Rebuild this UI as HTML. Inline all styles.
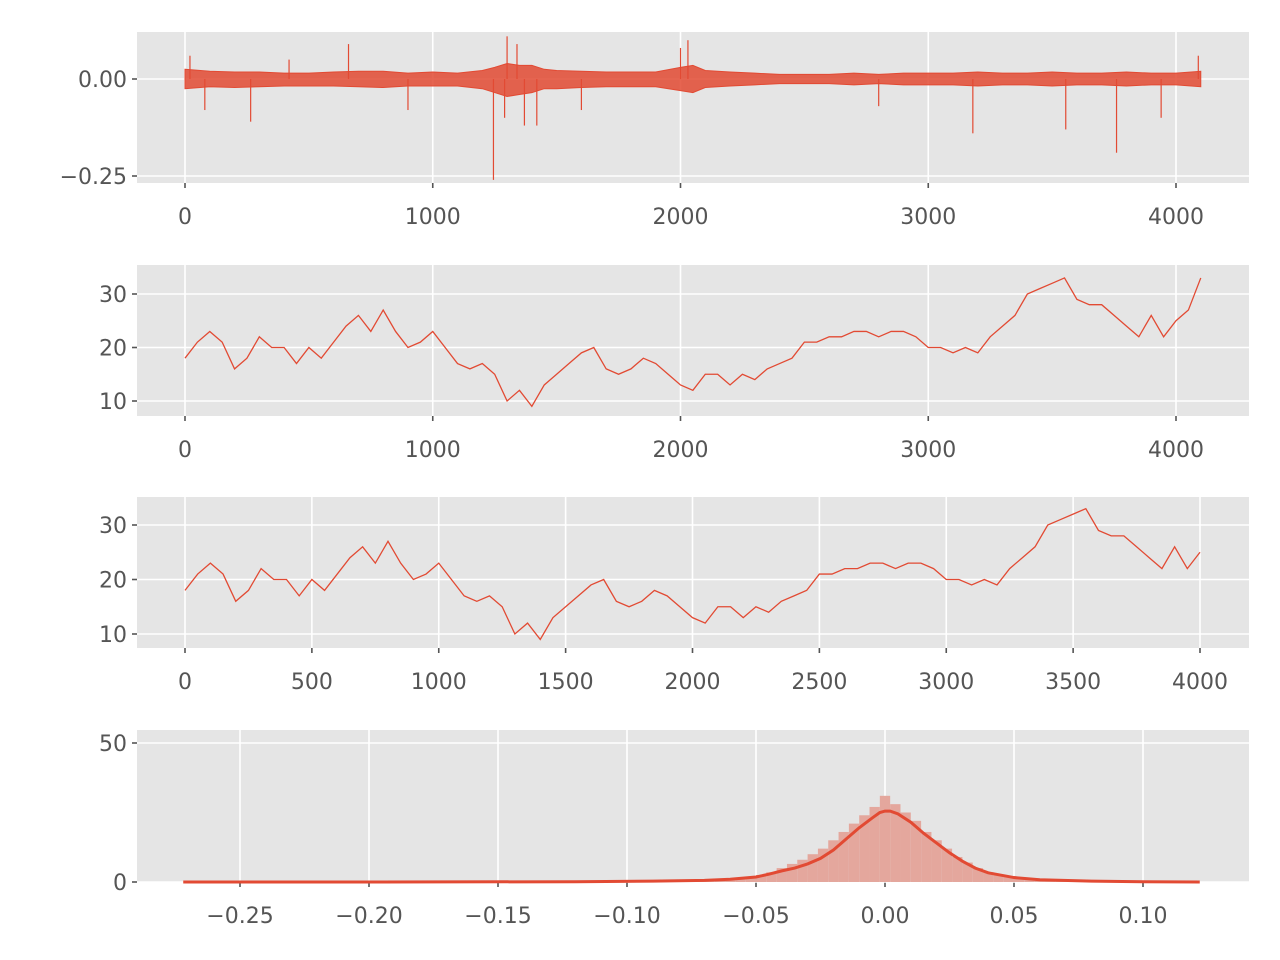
<!DOCTYPE html>
<html><head><meta charset="utf-8"><style>
html,body{margin:0;padding:0;background:#fff;width:1280px;height:960px;overflow:hidden}
svg text{font-family:"DejaVu Sans","Liberation Sans",sans-serif;font-size:22px;fill:#555}
</style></head><body>
<svg id="chart" width="1280" height="960" xmlns="http://www.w3.org/2000/svg"></svg>
<script>
// ---- data ----
const priceIdx = [0,50,100,150,200,250,300,350,400,450,500,550,600,650,700,750,800,850,900,950,1000,1050,1100,1150,1200,1250,1300,1350,1400,1450,1500,1550,1600,1650,1700,1750,1800,1850,1900,1950,2000,2050,2100,2150,2200,2250,2300,2350,2400,2450,2500,2550,2600,2650,2700,2750,2800,2850,2900,2950,3000,3050,3100,3150,3200,3250,3300,3350,3400,3450,3500,3550,3600,3650,3700,3750,3800,3850,3900,3950,4000,4050,4100];
const priceVals = [18,21,23,21,16,18,22,20,20,17,20,18,21,24,26,23,27,23,20,21,23,20,17,16,17,15,10,12,9,13,15,17,19,20,16,15,16,18,17,15,13,12,15,15,13,15,14,16,17,18,21,21,22,22,23,23,22,23,23,22,20,20,19,20,19,22,24,26,30,31,32,33,29,28,28,26,24,22,26,22,25,27,33];
const envIdx = [0,100,200,300,400,500,600,700,800,900,1000,1100,1200,1250,1300,1350,1400,1450,1500,1600,1700,1800,1900,2000,2050,2100,2200,2300,2400,2500,2600,2700,2800,2900,3000,3100,3200,3300,3400,3500,3600,3700,3800,3900,4000,4100];
const envHigh = [0.025,0.02,0.018,0.018,0.015,0.015,0.018,0.02,0.02,0.015,0.018,0.015,0.022,0.03,0.04,0.035,0.035,0.025,0.022,0.02,0.018,0.018,0.018,0.03,0.035,0.022,0.018,0.015,0.012,0.012,0.012,0.015,0.012,0.015,0.015,0.015,0.018,0.015,0.015,0.018,0.015,0.015,0.018,0.015,0.015,0.02];
const envLow = [-0.025,-0.02,-0.022,-0.02,-0.018,-0.018,-0.018,-0.02,-0.022,-0.018,-0.018,-0.018,-0.025,-0.035,-0.045,-0.04,-0.035,-0.025,-0.025,-0.022,-0.02,-0.02,-0.02,-0.03,-0.035,-0.022,-0.018,-0.015,-0.012,-0.012,-0.012,-0.015,-0.012,-0.015,-0.015,-0.015,-0.018,-0.015,-0.015,-0.018,-0.015,-0.015,-0.018,-0.015,-0.015,-0.02];
const spikeIdx = [20,80,265,420,660,900,1245,1290,1300,1340,1370,1420,1600,2000,2030,2800,3180,3555,3760,3940,4090];
const spikeVals = [0.06,-0.08,-0.11,0.05,0.09,-0.08,-0.26,-0.1,0.11,0.09,-0.12,-0.12,-0.08,0.08,0.1,-0.07,-0.14,-0.13,-0.19,-0.1,0.06];
const binCenters = [-0.080,-0.076,-0.072,-0.068,-0.064,-0.060,-0.056,-0.052,-0.048,-0.044,-0.040,-0.036,-0.032,-0.028,-0.024,-0.020,-0.016,-0.012,-0.008,-0.004,0,0.004,0.008,0.012,0.016,0.020,0.024,0.028,0.032,0.036,0.040,0.044,0.048,0.052,0.056,0.060,0.064,0.068,0.072,0.076,0.080];
const binCounts = [0.3,0.4,0.5,0.6,0.8,1,1.3,1.8,2.5,3.5,5,6.5,8,10,12,15,18,21,24,27,31,28,25,22,18,15,12,9,7,5,3.5,2.5,1.8,1.3,1,0.8,0.6,0.4,0.3,0.2,0.2];
const kdeX = [-0.272,-0.2,-0.12,-0.09,-0.07,-0.06,-0.05,-0.045,-0.04,-0.035,-0.03,-0.025,-0.02,-0.015,-0.01,-0.005,-0.002,0,0.002,0.005,0.01,0.015,0.02,0.025,0.03,0.035,0.04,0.05,0.06,0.08,0.1,0.122];
const kdeY = [0,0,0.1,0.3,0.6,1,1.8,2.8,4,5,6.5,8.5,11.5,15.5,19.5,23,25,25.5,25.5,24.5,21.5,17.5,14,10.5,7.5,5,3.3,1.6,0.8,0.3,0.1,0];
const xTicks1 = [0,1000,2000,3000,4000];
const yTicks1 = [0,-0.25], yLabels1 = ["0.00","\u22120.25"];
const yTicks2 = [10,20,30];
const xTicks3 = [0,500,1000,1500,2000,2500,3000,3500,4000];
const xTicks4 = [-0.25,-0.20,-0.15,-0.10,-0.05,0,0.05,0.10];
const xLabels4 = ["\u22120.25","\u22120.20","\u22120.15","\u22120.10","\u22120.05","0.00","0.05","0.10"];
const yTicks4 = [0,50];

const NS="http://www.w3.org/2000/svg", svg=document.getElementById('chart');
const RED="#E24A33";
function mk(tag,attrs,parent){const e=document.createElementNS(NS,tag);for(const k in attrs)e.setAttribute(k,attrs[k]);(parent||svg).appendChild(e);return e;}
function lin(d0,d1,r0,r1){return v=>r0+(v-d0)*(r1-r0)/(d1-d0);}
function panel(name,top,bot,xs,ys,xt,xl,yt,yl){
  const g=mk('g',{});
  
  
  const bg=mk('rect',{x:137,y:top,width:1112,height:bot-top,fill:'#E5E5E5'},g);
  
  
  xt.forEach((v,i)=>{const x=xs(v);
    mk('line',{x1:x,x2:x,y1:top,y2:bot,stroke:'#fff','stroke-width':1.6},g);
    mk('line',{x1:x,x2:x,y1:bot,y2:bot+5,stroke:'#555','stroke-width':1.6},g);
    const t=mk('text',{x:x,y:bot+41,'text-anchor':'middle'},g);t.textContent=xl?xl[i]:String(v);
    
    });
  yt.forEach((v,i)=>{const y=ys(v);
    mk('line',{x1:137,x2:1249,y1:y,y2:y,stroke:'#fff','stroke-width':1.6},g);
    mk('line',{x1:132,x2:137,y1:y,y2:y,stroke:'#555','stroke-width':1.6},g);
    const t=mk('text',{x:127,y:y+8,'text-anchor':'end'},g);t.textContent=yl?yl[i]:String(v);
    
    });
  return g;
}
{const xs=lin(0,4000,185,1176),ys=lin(0,-0.25,79,176);
 const g=panel('returns-panel',32,183,xs,ys,xTicks1,null,yTicks1,yLabels1);
 let d='M'+envIdx.map((v,i)=>xs(v)+','+ys(envHigh[i])).join('L');
 for(let i=envIdx.length-1;i>=0;i--)d+='L'+xs(envIdx[i])+','+ys(envLow[i]);
 const a=mk('path',{d:d+'Z',fill:RED,'fill-opacity':0.85,stroke:RED,'stroke-width':1},g);
 
 
 spikeIdx.forEach((v,i)=>{const s=mk('line',{x1:xs(v),x2:xs(v),y1:ys(0),y2:ys(spikeVals[i]),stroke:RED,'stroke-width':1.2},g);
  
  });
}
function priceLine(g,xs,ys,maxIdx,name){
  const pts=[];priceIdx.forEach((v,i)=>{if(v<=maxIdx)pts.push(xs(v)+','+ys(priceVals[i]));});
  const p=mk('polyline',{points:pts.join(' '),fill:'none',stroke:RED,'stroke-width':1.3},g);
  
  
}
{const xs=lin(0,4000,185,1176),ys=lin(30,10,294,401);
 const g=panel('price-panel',265,416,xs,ys,xTicks1,null,yTicks2,null);
 priceLine(g,xs,ys,4100,'price-line');}
{const xs=lin(0,4000,185,1200),ys=lin(30,10,525,634);
 const g=panel('price-subset-panel',497,648,xs,ys,xTicks3,null,yTicks2,null);
 priceLine(g,xs,ys,4000,'price-subset-line');}
{const xs=lin(0,0.10,885,1143),ys=lin(0,50,882,743);
 const g=panel('histogram-panel',730,882,xs,ys,xTicks4,xLabels4,yTicks4,null);
 binCenters.forEach((c,i)=>{const x0=xs(c-0.002),x1=xs(c+0.002);
  const r=mk('rect',{x:x0,y:ys(binCounts[i]),width:x1-x0,height:ys(0)-ys(binCounts[i]),fill:'#E4A79D'},g);
  
  });
 const k=mk('polyline',{points:kdeX.map((v,i)=>xs(v)+','+ys(kdeY[i])).join(' '),fill:'none',stroke:RED,'stroke-width':3},g);
 
 }
</script>
</body></html>
